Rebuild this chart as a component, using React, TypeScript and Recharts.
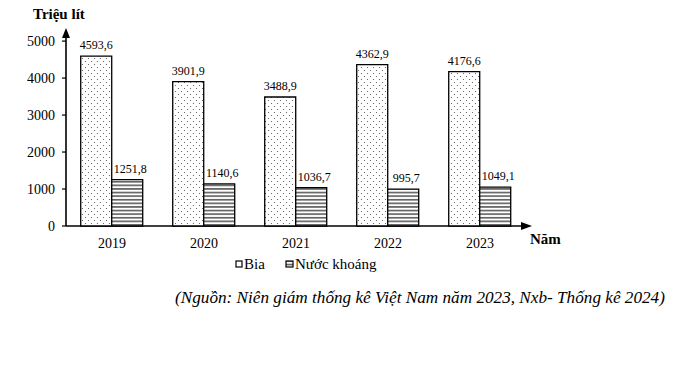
import React from "react";
import { BarChart, Bar, XAxis, YAxis, LabelList, Customized } from "recharts";

const years = ["2019", "2020", "2021", "2022", "2023"];
const bia = [4593.6, 3901.9, 3488.9, 4362.9, 4176.6];
const nuocKhoang = [1251.8, 1140.6, 1036.7, 995.7, 1049.1];
const yTicks = [0, 1000, 2000, 3000, 4000, 5000];

const data = years.map((y, i) => ({ year: y, bia: bia[i], nk: nuocKhoang[i] }));

const FONT = "'Liberation Serif', 'Times New Roman', serif";
const fmt = (v: any) => String(v).replace(".", ",");

const Decor = () => (
  <g>
    <defs>
      <pattern id="dots" width="6" height="6" patternUnits="userSpaceOnUse">
        <rect width="6" height="6" fill="#fff" />
        <circle cx="1.5" cy="1.5" r="0.6" fill="#555" />
        <circle cx="4.5" cy="4.5" r="0.6" fill="#555" />
      </pattern>
      <pattern id="hlines" width="6" height="3.6" patternUnits="userSpaceOnUse">
        <rect width="6" height="3.6" fill="#fff" />
        <rect y="1.2" width="6" height="1.1" fill="#111" />
      </pattern>
    </defs>
    <polygon points="66,28 62,38 70,38" fill="#000" />
    <polygon points="532,226 521,222 521,230" fill="#000" />
    <line x1="66" y1="36" x2="66" y2="226" stroke="#000" strokeWidth={1.6} />
    <line x1="66" y1="226" x2="524" y2="226" stroke="#000" strokeWidth={1.6} />
    <text x={33} y={19} style={{ fontFamily: FONT, fontWeight: "bold", fontSize: 15 }}>Triệu lít</text>
    <text x={530} y={244} style={{ fontFamily: FONT, fontWeight: "bold", fontSize: 15 }}>Năm</text>
    <rect x={236} y={261} width={6} height={6} fill="#fff" stroke="#000" strokeWidth={1.2} />
    <text x={244} y={269} style={{ fontFamily: FONT, fontSize: 15 }}>Bia</text>
    <rect x={286} y={261} width={7} height={6} fill="url(#hlines)" stroke="#000" strokeWidth={1.2} />
    <text x={295} y={269} style={{ fontFamily: FONT, fontSize: 15 }}>Nước khoáng</text>
    <text x={175} y={303} style={{ fontFamily: FONT, fontStyle: "italic", fontSize: 17.2 }}>
      (Nguồn: Niên giám thống kê Việt Nam năm 2023, Nxb- Thống kê 2024)
    </text>
  </g>
);

export default function App() {
  return (
    <div style={{ position: "absolute", left: 0, top: 0, width: 680, height: 377, background: "#fff" }}>
      <BarChart
        width={680}
        height={377}
        data={data}
        margin={{ top: 30, right: 154, bottom: 121, left: 0 }}
        barCategoryGap="16%"
        barGap={0}
      >
        <Customized component={<Decor />} />
        <XAxis
          dataKey="year"
          axisLine={false}
          tickLine={false}
          tick={{ fontFamily: FONT, fontSize: 14, fill: "#000" }}
          tickMargin={6}
          height={30}
        />
        <YAxis
          domain={[0, 5300]}
          ticks={yTicks}
          width={66}
          axisLine={false}
          tickLine={{ stroke: "#000", strokeWidth: 1.2 }}
          tickSize={4}
          tickMargin={7}
          tick={{ fontFamily: FONT, fontSize: 14, fill: "#000" }}
          interval={0}
        />
        <Bar dataKey="bia" fill="url(#dots)" stroke="#000" strokeWidth={1.3} isAnimationActive={false}>
          <LabelList dataKey="bia" position="top" offset={7} formatter={fmt} style={{ fontFamily: FONT, fontSize: 12, fill: "#000" }} />
        </Bar>
        <Bar dataKey="nk" fill="url(#hlines)" stroke="#000" strokeWidth={1.3} isAnimationActive={false}>
          <LabelList dataKey="nk" position="top" offset={7} dx={3} formatter={fmt} style={{ fontFamily: FONT, fontSize: 12, fill: "#000" }} />
        </Bar>
      </BarChart>
    </div>
  );
}
